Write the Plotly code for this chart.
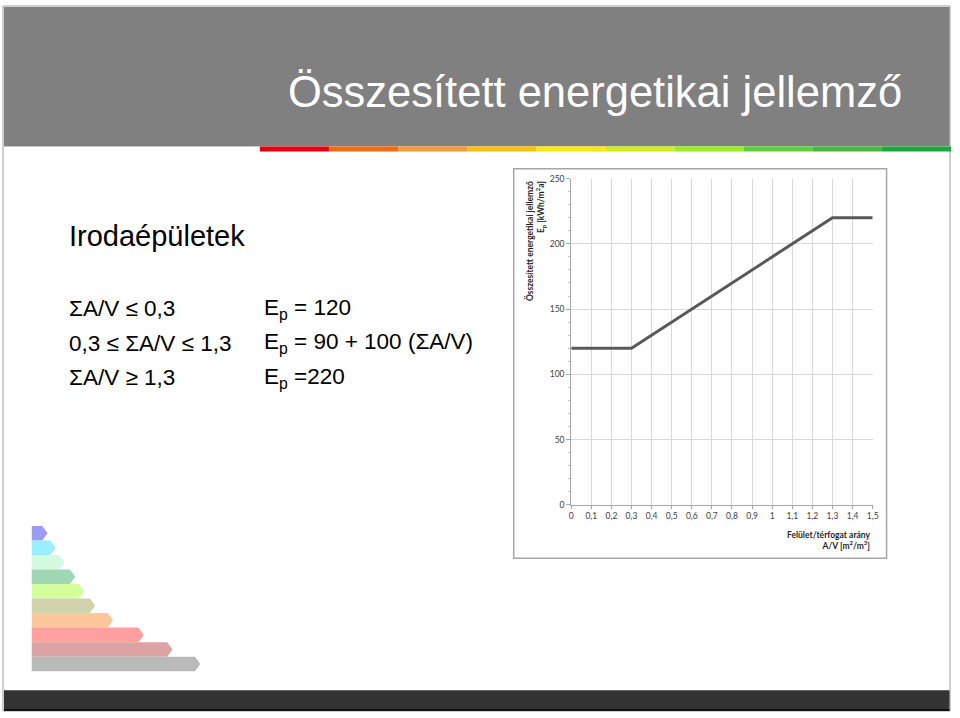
import plotly.graph_objects as go

# slide canvas in pixels
W, H = 960, 718

# chart data
av_ratio = [0, 0.3, 1.3, 1.5]
ep_values = [120, 120, 220, 220]

x_ticks = [0, 0.1, 0.2, 0.3, 0.4, 0.5, 0.6, 0.7, 0.8, 0.9, 1, 1.1, 1.2, 1.3, 1.4, 1.5]
x_tick_labels = ["0", "0,1", "0,2", "0,3", "0,4", "0,5", "0,6", "0,7", "0,8", "0,9",
                 "1", "1,1", "1,2", "1,3", "1,4", "1,5"]
y_ticks = [0, 50, 100, 150, 200, 250]
y_tick_labels = ["0", "50", "100", "150", "200", "250"]

# formula lines on the slide
rule_conditions = ["ΣA/V ≤ 0,3", "0,3 ≤ ΣA/V ≤ 1,3", "ΣA/V ≥ 1,3"]
rule_formulas = ["E<sub>p</sub> = 120", "E<sub>p</sub> = 90 + 100 (ΣA/V)", "E<sub>p</sub> =220"]

# header stripe colours and energy label arrows (tip length, colour)
stripe_colors = ["#e8000b", "#f56a0a", "#f89a36", "#fcc00a", "#ffe80c",
                 "#cfee1a", "#99f01a", "#5cd23a", "#48b83a", "#1aa83a"]
label_lengths = [16, 24, 33, 44, 53, 64, 82, 113, 142, 170]
label_colors = ["#9b9bf5", "#99eeff", "#d4fbe0", "#9fd6b3", "#d4fd9e",
                "#d2d2ad", "#fdc79b", "#ff9f9f", "#dba3a3", "#b9b9b9"]


def px(x):
    return x / W


def py(y):
    return 1 - y / H


def rect(x0, y0, x1, y1, fill, line=None, width=0, layer="below"):
    return dict(type="rect", xref="paper", yref="paper",
                x0=px(x0), x1=px(x1), y0=py(y1), y1=py(y0),
                fillcolor=fill, line=dict(color=line or fill, width=width), layer=layer)


shapes = []
# slide frame, header, bottom bar
shapes.append(rect(1, 1, 956, 716, "white", "#a0a0a0", 1))
shapes.append(rect(2, 2, 955.5, 143, "#808080"))
shapes.append(rect(2, 143, 955.5, 144, "#c8c8c8"))
shapes.append(rect(2, 695, 955.5, 715, "#333333"))
shapes.append(rect(2, 714, 955.5, 716, "#111111"))

# coloured stripe under the header
seg = (957 - 260) / len(stripe_colors)
for i, c in enumerate(stripe_colors):
    shapes.append(rect(260 + i * seg, 143.5, 260 + (i + 1) * seg, 148.5, c))

# chart frame
shapes.append(rect(516, 166, 892, 561, "white", "#a6a6a6", 1.5))

# energy label arrows
bar_left, bar_top, bar_h = 30, 528.3, 14.73
for i, (ln, c) in enumerate(zip(label_lengths, label_colors)):
    t = bar_top + i * bar_h
    b = t + bar_h
    tip = bar_left + ln
    path = "M {},{} L {},{} L {},{} L {},{} L {},{} Z".format(
        px(bar_left), py(t), px(tip - 5.5), py(t), px(tip), py(t + bar_h / 2),
        px(tip - 5.5), py(b), px(bar_left), py(b))
    shapes.append(dict(type="path", xref="paper", yref="paper", path=path,
                       fillcolor=c, line=dict(width=0), layer="below"))

fig = go.Figure()
fig.add_trace(go.Scatter(x=av_ratio, y=ep_values, mode="lines",
                         line=dict(color="#595959", width=3), hoverinfo="x+y",
                         showlegend=False))

tick_font = dict(family="Lato, Open Sans, sans-serif", size=8.5, color="#404040")

fig.update_layout(
    autosize=True,
    margin=dict(l=0, r=0, t=0, b=0),
    paper_bgcolor="white",
    plot_bgcolor="rgba(0,0,0,0)",
    separators=", ",
    shapes=shapes,
    xaxis=dict(domain=[px(574), px(878)], range=[0, 1.5],
               tickvals=x_ticks, ticktext=x_tick_labels, tickfont=tick_font,
               showgrid=True, gridcolor="#d9d9d9", gridwidth=1,
               showline=True, linecolor="#a6a6a6", linewidth=1,
               ticks="outside", ticklen=3, tickcolor="#a6a6a6",
               zeroline=False, fixedrange=True),
    yaxis=dict(domain=[py(507), py(176)], range=[0, 250],
               tickvals=y_ticks, ticktext=y_tick_labels, tickfont=tick_font,
               showgrid=True, gridcolor="#d9d9d9", gridwidth=1,
               showline=True, linecolor="#a6a6a6", linewidth=1,
               ticks="outside", ticklen=4, tickcolor="#a6a6a6",
               minor=dict(dtick=10, ticks="outside", ticklen=2, tickcolor="#c0c0c0",
                          showgrid=False),
               zeroline=False, fixedrange=True),
)

ann = []
# title
ann.append(dict(x=px(286), y=py(88), xref="paper", yref="paper", xanchor="left", yanchor="middle",
                text="Összesített energetikai jellemző", showarrow=False,
                font=dict(family="Liberation Sans, Arial, sans-serif", size=43.5, color="white")))
# subtitle
ann.append(dict(x=px(66), y=py(234), xref="paper", yref="paper", xanchor="left", yanchor="middle",
                text="Irodaépületek", showarrow=False,
                font=dict(family="Liberation Sans, Arial, sans-serif", size=29, color="black")))
# formulas
for i, (cond, form) in enumerate(zip(rule_conditions, rule_formulas)):
    yc = 308 + i * 35
    ann.append(dict(x=px(66), y=py(yc), xref="paper", yref="paper", xanchor="left", yanchor="middle",
                    text=cond, showarrow=False,
                    font=dict(family="Liberation Sans, Arial, sans-serif", size=22.5, color="black")))
    ann.append(dict(x=px(262), y=py(yc), xref="paper", yref="paper", xanchor="left", yanchor="middle",
                    text=form, showarrow=False,
                    font=dict(family="Liberation Sans, Arial, sans-serif", size=22.5, color="black")))
# axis titles
ann.append(dict(x=px(537), y=py(177), xref="paper", yref="paper", xanchor="center", yanchor="top",
                text="<b>Összesített energetikai jellemző<br>E<sub>p</sub> [kWh/m<sup>2</sup>a]</b>",
                textangle=-90, align="right", showarrow=False,
                font=dict(family="Lato, Open Sans, sans-serif", size=8.5, color="#262626")))
ann.append(dict(x=px(877), y=py(543), xref="paper", yref="paper", xanchor="right", yanchor="middle",
                text="<b>Felület/térfogat arány<br>A/V [m<sup>2</sup>/m<sup>3</sup>]</b>",
                align="right", showarrow=False,
                font=dict(family="Lato, Open Sans, sans-serif", size=8.5, color="#262626")))
fig.update_layout(annotations=ann)

# page margin off, figure fills the window
fig.write_html("out.html", config={"displayModeBar": False},
               default_width="100vw", default_height="100vh",
               post_script="document.body.style.margin='0';document.body.style.overflow='hidden';")
